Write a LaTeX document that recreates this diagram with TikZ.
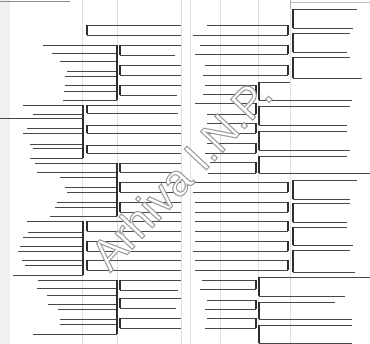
\documentclass[tikz,border=0pt]{standalone}
\usepackage{fontspec}
\setmainfont{Liberation Sans}
\usepackage{tikz}

% outlined stamp text: white fill, grey stroke
\newcommand{\stamptext}[1]{\textcolor{white}{\special{pdf:literal direct 0.62 G 1.1 w 2 Tr}#1\special{pdf:literal direct 0 Tr}}}

\begin{document}
\begin{tikzpicture}[x=1pt, y=-1pt,
    rule/.style={draw=black!72, line width=0.75pt},
    joint/.style={draw=black!82, line width=1.3pt},
    faint/.style={draw=black!12, line width=0.4pt}]
    \useasboundingbox[fill=white] (0,0) rectangle (370,344);
    \fill[black!6] (0,0) rectangle (10,344);

    % faint ruling of the sheet
    \foreach \gx in {82,117,181,190,220,258,290}
        \draw[faint] (\gx,0) -- (\gx,344);
    \draw[rule, draw=black!45] (0,1.5) -- (70,1.5);
    \draw[rule, draw=black!30] (290,0) -- (290,9);
    \draw[rule, draw=black!25] (290,2) -- (370,2);

    % left half: long joints facing left
    \foreach \xs/\y in {43/45, 52/53, 60/61, 67/71, 65/76, 65/85, 64/91, 63/100,
                        35/163, 37/172, 60/177, 65/187, 67/192, 57/202, 55/207, 50/216,
                        38/280, 37/288, 47/295, 48/304, 58/309, 60/319, 60/324, 33/334}
        \draw[rule] (\xs,\y) -- (117,\y);
    \foreach \xs/\y in {23/105, 33/114, 0/118, 27/128, 23/133, 30/144, 33/148, 30/158,
                        27/221, 28/232, 23/237, 20/246, 18/251, 22/260, 25/265, 13/275}
        \draw[rule] (\xs,\y) -- (83,\y);
    \draw[joint] (117,45) -- (117,100);
    \draw[joint] (117,163) -- (117,216);
    \draw[joint] (117,280) -- (117,334);
    \draw[joint] (83,105) -- (83,158);
    \draw[joint] (83,221) -- (83,275);

    % left half: pairs facing right
    \foreach \x/\ya/\yb/\ea/\eb in {87/25/35/181/181,
                                    120/45/55/181/175, 120/65/75/181/181, 120/85/95/181/177,
                                    87/105/113/181/178, 87/125/133/181/181, 87/145/153/181/181,
                                    120/163/172/181/181, 120/182/192/181/181, 120/202/212/181/181,
                                    87/221/231/181/181, 87/241/251/181/181, 87/260/270/181/181,
                                    120/280/290/181/178, 120/298/308/181/176, 120/318/328/181/181} {
        \draw[rule] (\ea,\ya) -- (\x,\ya);
        \draw[rule] (\x,\yb) -- (\eb,\yb);
        \draw[joint] (\x,\ya) -- (\x,\yb);
    }

    % right half: pairs facing left
    \foreach \x/\ya/\yb/\sa/\sb in {288/25/35/207/193, 288/45/54/200/195, 288/65/75/205/203,
                                    256/85/94/205/203, 256/103/114/195/207, 256/123/133/207/203,
                                    256/143/153/207/205, 256/162/173/210/208,
                                    288/182/192/195/193, 288/202/212/195/195, 288/221/231/195/195,
                                    288/241/251/195/193, 288/260/270/195/195,
                                    256/280/289/202/200, 256/300/309/207/205, 256/318/328/207/205} {
        \draw[rule] (\sa,\ya) -- (\x,\ya);
        \draw[rule] (\x,\yb) -- (\sb,\yb);
        \draw[joint] (\x,\ya) -- (\x,\yb);
    }

    % right half: joints facing right
    \foreach \x/\ya/\yb/\ea/\eb in {293/9/28/357/353, 293/33/52/350/347, 293/57/78/350/362,
                                    259/82/100/290/352, 259/106/125/350/347, 259/131/150/347/350,
                                    259/156/173/347/370,
                                    293/180/199/357/350, 293/203/222/350/347, 293/227/245/347/353,
                                    293/250/272/350/355,
                                    259/277/296/370/345, 259/302/319/335/352, 259/325/343/352/352} {
        \draw[rule] (\ea,\ya) -- (\x,\ya);
        \draw[rule] (\x,\yb) -- (\eb,\yb);
        \draw[joint] (\x,\ya) -- (\x,\yb);
    }

    % archive stamp
    \node[rotate=47, font=\fontsize{44}{44}\selectfont] (stamp) at (181,174)
        {\stamptext{Arhiva I.N.P.}};
\end{tikzpicture}
\end{document}
